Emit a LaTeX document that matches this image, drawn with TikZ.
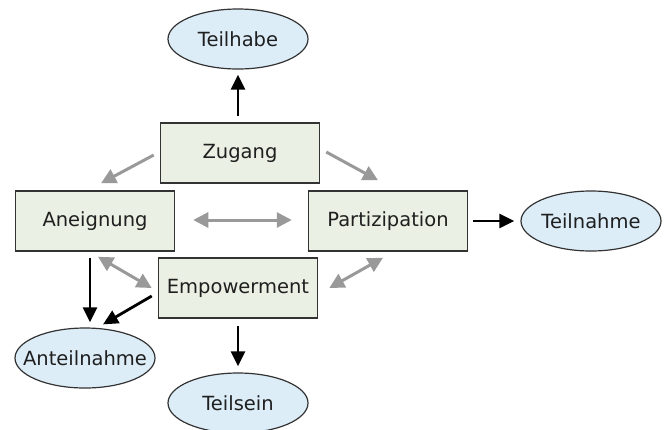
\documentclass[tikz,border=0pt]{standalone}
\usepackage{fontspec}
\setmainfont{DejaVu Sans}
\usetikzlibrary{arrows.meta,calc,shapes.geometric}
\definecolor{boxfill}{HTML}{EAF0E4}
\definecolor{ellfill}{HTML}{DCEDF8}
\definecolor{edge}{HTML}{333333}
\definecolor{garrow}{HTML}{999999}
\tikzset{
  box/.style={draw=edge, line width=1.5pt, fill=boxfill, minimum width=159pt, minimum height=60pt, inner sep=0pt, font=\fontsize{19.5}{21}\selectfont, text=black!88},
  oval/.style={ellipse, draw=edge, line width=1.2pt, fill=ellfill, minimum width=140pt, minimum height=60pt, inner sep=0pt, font=\fontsize{19.5}{21}\selectfont, text=black!88},
  garr/.style={draw=garrow, line width=3pt, -{Triangle[length=15pt,width=15pt]}},
  gdarr/.style={draw=garrow, line width=3pt, {Triangle[length=15pt,width=15pt]}-{Triangle[length=15pt,width=15pt]}},
  barr/.style={draw=black, line width=2.8pt, -{Triangle[length=15pt,width=14pt]}}
}
\newcommand{\zw}[1]{\makebox[0pt]{#1}}
\begin{document}
\begin{tikzpicture}[x=1pt,y=-1pt]
\useasboundingbox (0,0) rectangle (668,429);
\node[oval] (teilhabe) at (238,39) {\zw{Teilhabe}};
\node[box] (zug) at (240,153) {Zugang};
\node[box] (aneig) at (95,221) {Aneignung};
\node[box] (part) at (388,221) {Partizipation};
\node[box] (emp) at (238,288) {Empowerment};
\node[oval] (teilnahme) at (591,221) {\zw{Teilnahme}};
\node[oval] (anteil) at (85,358) {\zw{Anteilnahme}};
\node[oval] (teilsein) at (238,403) {\zw{Teilsein}};
% gray
\draw[garr] ($(zug.west)+(-6,2)$) -- ($(aneig.north)+(6,-7)$);
\draw[garr] ($(zug.east)+(6,-1)$) -- ($(part.north)+(-10,-10)$);
\draw[gdarr] ($(aneig.east)+(18,-1)$) -- ($(part.west)+(-16,-1)$);
\draw[gdarr] ($(aneig.south)+(3,5)$) -- ($(emp.west)+(-6,0)$);
\draw[gdarr] ($(emp.east)+(11,0)$) -- ($(part.south)+(-5,6)$);
% black
\draw[barr] ($(zug.north)+(-2,-6)$) -- ($(teilhabe.south)+(0,5)$);
\draw[barr] ($(part.east)+(5,0)$) -- ($(teilnahme.west)+(-6,0)$);
\draw[barr] ($(aneig.south)+(-5,6)$) -- ($(anteil.north)+(5,-5)$);
\draw[barr] ($(emp.west)+(-6,8)$) -- ($(anteil.north)+(18,-3)$);
\draw[barr] ($(emp.south)+(0,7)$) -- ($(teilsein.north)+(0,-6)$);
\end{tikzpicture}
\end{document}
